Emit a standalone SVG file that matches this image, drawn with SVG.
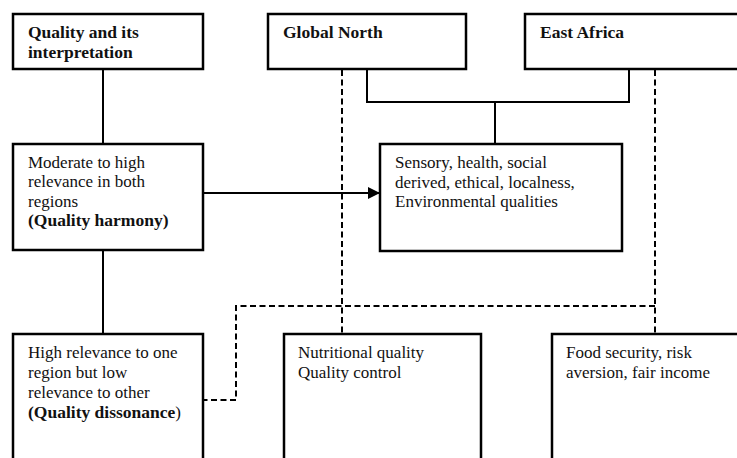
<svg xmlns="http://www.w3.org/2000/svg" width="737" height="458" viewBox="0 0 737 458">
<defs>
<style>
.box{fill:#fff;stroke:#000;stroke-width:2.5}
text{font-family:'Liberation Serif','Times New Roman',Times,serif;font-size:17px;fill:#111}
.b{font-weight:bold;font-size:17.5px}
.ln{fill:none;stroke:#000;stroke-width:2}
.dl{fill:none;stroke:#000;stroke-width:2;stroke-dasharray:6,3.5}
</style>
<marker id="ah" viewBox="0 0 10 10" refX="10" refY="5" markerWidth="12" markerHeight="12" markerUnits="userSpaceOnUse" orient="auto">
<path d="M0,0 L10,5 L0,10 Z" fill="#000"/>
</marker>
</defs>
<rect width="737" height="458" fill="#fff"/>
<g id="connectors">
<line class="ln" x1="103" y1="69" x2="103" y2="144"/>
<line class="ln" x1="103" y1="251" x2="103" y2="334"/>
<path class="ln" d="M367,69 V102 H629 V69"/>
<line class="ln" x1="495" y1="102" x2="495" y2="144"/>
<line class="ln" x1="203" y1="193" x2="380" y2="193" marker-end="url(#ah)"/>
<line class="dl" x1="342" y1="70" x2="342" y2="334"/>
<line class="dl" x1="655" y1="70" x2="655" y2="334"/>
<path class="dl" d="M655,306 H236 V400 H204"/>
</g>
<g id="quality">
<rect class="box" x="13" y="14" width="190" height="55"/>
<text class="b" x="28" y="38">Quality and its</text>
<text class="b" x="28" y="58">interpretation</text>
</g>
<g id="global-north">
<rect class="box" x="268" y="14" width="198" height="55"/>
<text class="b" x="283" y="38">Global North</text>
</g>
<g id="east-africa">
<rect class="box" x="525" y="14" width="230" height="55"/>
<text class="b" x="540" y="38">East Africa</text>
</g>
<g id="harmony">
<rect class="box" x="13" y="144" width="190" height="106"/>
<text x="28" y="168">Moderate to high</text>
<text x="28" y="187">relevance in both</text>
<text x="28" y="207">regions</text>
<text class="b" x="28" y="226">(Quality harmony)</text>
</g>
<g id="qualities">
<rect class="box" x="380" y="144" width="242" height="107"/>
<text x="395" y="168">Sensory, health, social</text>
<text x="395" y="188">derived, ethical, localness,</text>
<text x="395" y="207">Environmental qualities</text>
</g>
<g id="dissonance">
<rect class="box" x="13" y="334" width="190" height="140"/>
<text x="28" y="358">High relevance to one</text>
<text x="28" y="378">region but low</text>
<text x="28" y="398">relevance to other</text>
<text x="28" y="418"><tspan font-weight="bold" font-size="17.5px">(Quality dissonance</tspan>)</text>
</g>
<g id="nutritional">
<rect class="box" x="284" y="334" width="197" height="140"/>
<text x="298" y="358">Nutritional quality</text>
<text x="298" y="378">Quality control</text>
</g>
<g id="food">
<rect class="box" x="552" y="334" width="200" height="140"/>
<text x="566" y="358">Food security, risk</text>
<text x="566" y="378">aversion, fair income</text>
</g>
</svg>
